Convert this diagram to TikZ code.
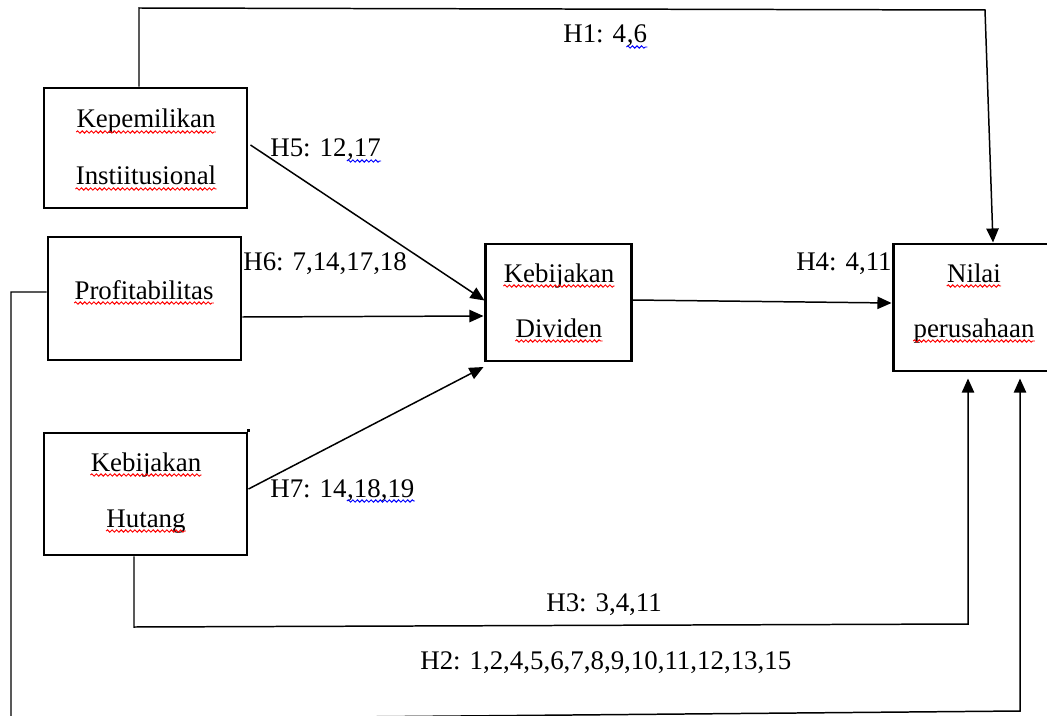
\documentclass[tikz,border=0pt]{standalone}
\usepackage{fontspec}
\setmainfont{Liberation Serif}
\usepackage{xcolor}
\usetikzlibrary{arrows.meta,calc,decorations.pathmorphing}
\tikzset{
  box/.style 2 args={draw=black, line width=1.7pt, fill=none, inner sep=0pt,
    minimum width=#1*0.02cm, minimum height=#2*0.02cm},
  txt/.style={inner sep=0pt, anchor=base, font=\fontsize{15.3}{18}\selectfont},
  lbl/.style={inner sep=0pt, anchor=base west, font=\fontsize{15.3}{18}\selectfont},
  conn/.style={draw=black, line width=0.85pt, -{Triangle[length=8pt,width=7pt]}},
  wavy/.style={draw=#1, line width=0.55pt, decorate,
    decoration={snake, amplitude=0.65pt, segment length=2.6pt}},
}
\newcommand\spellwave[2]{\draw[wavy=#1] ($(#2.base west)+(0,4)$) -- ($(#2.base east)+(0,4)$);}
\begin{document}
\begin{tikzpicture}[x=0.02cm,y=-0.02cm]
\useasboundingbox (0,0) rectangle (1047,716);
\clip (0,0) rectangle (1047,716);
% boxes
\node[box={203}{120}] (ki) at (145.5,148) {};
\node[box={193}{123}] (pr) at (144.5,298.5) {};
\node[box={203}{122}] (hu) at (145.5,494) {};
\node[box={146}{117}] (dv) at (558,302.5) {};
\node[box={162}{127}] (ni) at (974,307.5) {};
\draw[line width=1.7pt] (hu.north east) -- ($(hu.north east)+(0,-3)$);
% box texts
\node[txt] (kia) at (146,128) {Kepemilikan};
\node[txt] (kib) at (146,185) {Instiitusional};
\node[txt] (pra) at (144,299) {Profitabilitas};
\node[txt] (hua) at (146,471) {Kebijakan};
\node[txt] (hub) at (146,527) {Hutang};
\node[txt] (dva) at (559,282) {Kebijakan};
\node[txt] (dvb) at (559,337) {Dividen};
\node[txt] (nia) at (974,282) {Nilai};
\node[txt] (nib) at (974,337) {perusahaan};
\foreach \n in {kia,kib,pra,hua,hub,dva,dvb,nia,nib}{\spellwave{red}{\n}}
% labels
\node[lbl] (h1) at (563,43) {H1: 4};
\node[lbl] (h1x) at (h1.base east) {,6};
\node[lbl] (h5) at (270,157) {H5: 12};
\node[lbl] (h5x) at (h5.base east) {,17};
\node[lbl] (h6) at (243,270) {H6: 7,14,17,18};
\node[lbl] (h7) at (270,497) {H7: 14};
\node[lbl] (h7x) at (h7.base east) {,18,19};
\node[lbl, anchor=base east] (h4) at (892,270) {H4: 4,11};
\node[lbl] (h3) at (546,611) {H3: 3,4,11};
\node[lbl] (h2) at (420,669) {H2: 1,2,4,5,6,7,8,9,10,11,12,13,15};
\foreach \n in {h1x,h5x,h7x}{\spellwave{blue}{\n}}
% routing points
\coordinate (h1a) at (139,8);
\coordinate (h1b) at (985,10);
\coordinate (h3a) at (134,627);
\coordinate (h3b) at (968,624);
\coordinate (h2a) at (11,292);
\coordinate (h2b) at (11,720);
\coordinate (h2c) at (1020,711);
% connectors
\draw[conn] ($(ki.east)+(2,-3)$) -- ($(dv.west)+(1,-2)$);
\draw[conn] (pr.east |- 0,317) -- (dv.west |- 0,316);
\draw[conn] (hu.east |- 0,489) -- (dv.west |- 0,367);
\draw[conn] (dv.east |- 0,300) -- (ni.west |- 0,303);
\draw[conn] (h1a |- ki.north) -- (h1a) -- (h1b) -- ($(ni.north)+(19,0)$);
\draw[conn] (h3a |- hu.south) -- (h3a) -- (h3b) -- ($(h3b |- ni.south)+(0,6)$);
\draw[conn] (pr.west |- h2a) -- (h2a) -- (h2b) -- (h2c) -- ($(h2c |- ni.south)+(0,6)$);
\end{tikzpicture}
\end{document}
